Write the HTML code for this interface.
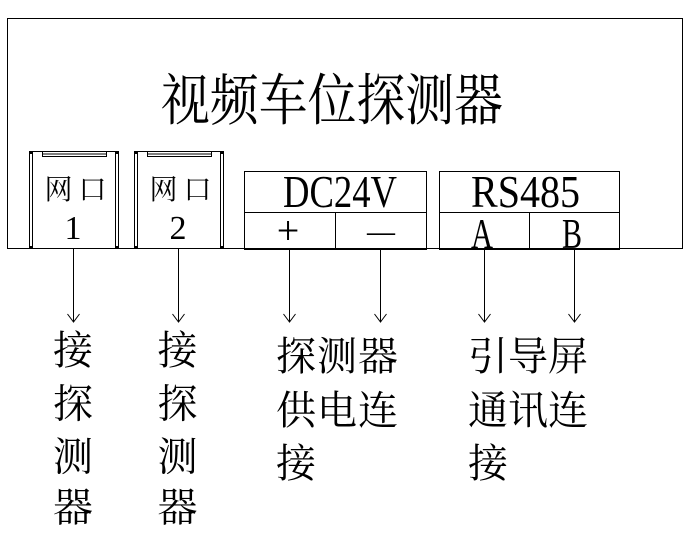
<!DOCTYPE html>
<html><head><meta charset="utf-8"><style>
html,body{margin:0;padding:0;background:#fff;}
svg{display:block;}
.cjk{font-family:"Liberation Serif","Noto Serif CJK SC",serif;fill:#000;}
.lat{font-family:"Liberation Serif",serif;fill:#000;}
</style></head><body>
<svg width="694" height="540" viewBox="0 0 694 540" xmlns="http://www.w3.org/2000/svg">
<g fill="none" stroke="#000" stroke-width="1">
  <rect x="7.5" y="18.5" width="675" height="230"/>
  <!-- Port 1 -->
  <rect x="29.5" y="151.5" width="89" height="97"/>
  <line x1="32.5" y1="151" x2="32.5" y2="249"/>
  <line x1="115.5" y1="151" x2="115.5" y2="249"/>
  <rect x="42.5" y="151.5" width="64" height="5"/>
  <line x1="42" y1="154" x2="107" y2="154"/>
  <!-- Port 2 -->
  <rect x="134.5" y="151.5" width="89" height="97"/>
  <line x1="137.5" y1="151" x2="137.5" y2="249"/>
  <line x1="220.5" y1="151" x2="220.5" y2="249"/>
  <rect x="147.5" y="151.5" width="64" height="5"/>
  <line x1="147" y1="154" x2="212" y2="154"/>
  <!-- DC24V -->
  <rect x="244.5" y="171.5" width="182" height="78"/>
  <line x1="244" y1="212.5" x2="427" y2="212.5"/>
  <line x1="335.5" y1="212" x2="335.5" y2="250"/>
  <!-- RS485 -->
  <rect x="439.5" y="171.5" width="180" height="78"/>
  <line x1="439" y1="212.5" x2="620" y2="212.5"/>
  <line x1="529.5" y1="212" x2="529.5" y2="250"/>
  <!-- arrows -->
  <g>
    <line x1="73.5" y1="249" x2="73.5" y2="322"/><polyline points="67.5,314 73.5,322 79.5,314"/>
    <line x1="178.5" y1="249" x2="178.5" y2="322"/><polyline points="172.5,314 178.5,322 184.5,314"/>
    <line x1="289.5" y1="250" x2="289.5" y2="322"/><polyline points="283.5,314 289.5,322 295.5,314"/>
    <line x1="380.5" y1="250" x2="380.5" y2="322"/><polyline points="374.5,314 380.5,322 386.5,314"/>
    <line x1="484.5" y1="250" x2="484.5" y2="322"/><polyline points="478.5,314 484.5,322 490.5,314"/>
    <line x1="574.5" y1="250" x2="574.5" y2="322"/><polyline points="568.5,314 574.5,322 580.5,314"/>
  </g>
</g>
<g fill="#000">
  <rect x="29" y="151" width="4" height="3"/><rect x="115" y="151" width="4" height="3"/>
  <rect x="29" y="246" width="4" height="3"/><rect x="115" y="246" width="4" height="3"/>
  <rect x="134" y="151" width="4" height="3"/><rect x="220" y="151" width="4" height="3"/>
  <rect x="134" y="246" width="4" height="3"/><rect x="220" y="246" width="4" height="3"/>
</g>
<!-- Title -->
<text class="cjk" x="161" y="120" font-size="56" textLength="342" lengthAdjust="spacingAndGlyphs">视频车位探测器</text>
<!-- Port labels -->
<g class="cjk" font-size="28" text-anchor="middle">
  <text x="58.5" y="199">网</text><text x="92.5" y="199">口</text>
  <text x="163.5" y="199">网</text><text x="197.5" y="199">口</text>
</g>
<g class="lat" font-size="34" text-anchor="middle">
  <text x="73" y="239">1</text>
  <text x="178" y="239">2</text>
</g>
<text class="lat" x="283" y="207" font-size="46" textLength="114" lengthAdjust="spacingAndGlyphs">DC24V</text>
<text class="lat" x="471" y="207" font-size="46" textLength="109" lengthAdjust="spacingAndGlyphs">RS485</text>
<text class="lat" x="288" y="244" font-size="40" text-anchor="middle">+</text>
<text class="lat" x="367" y="242" font-size="34" textLength="28" lengthAdjust="spacingAndGlyphs">—</text>
<text class="lat" x="471" y="248" font-size="42" textLength="22" lengthAdjust="spacingAndGlyphs">A</text>
<text class="lat" x="562" y="248" font-size="42" textLength="20" lengthAdjust="spacingAndGlyphs">B</text>
<!-- Bottom vertical labels -->
<g class="cjk" font-size="40" text-anchor="middle">
  <text x="73" y="364">接</text><text x="73" y="417.5">探</text><text x="73" y="470.5">测</text><text x="73" y="521">器</text>
  <text x="177.5" y="364">接</text><text x="177.5" y="417.5">探</text><text x="177.5" y="470.5">测</text><text x="177.5" y="521">器</text>
  <text x="296" y="370">探</text><text x="337" y="370">测</text><text x="378" y="370">器</text>
  <text x="296" y="424">供</text><text x="337" y="424">电</text><text x="378" y="424">连</text>
  <text x="296" y="477">接</text>
  <text x="488" y="370">引</text><text x="528" y="370">导</text><text x="568" y="370">屏</text>
  <text x="488" y="424">通</text><text x="528" y="424">讯</text><text x="568" y="424">连</text>
  <text x="488" y="477">接</text>
</g>
</svg>
</body></html>
